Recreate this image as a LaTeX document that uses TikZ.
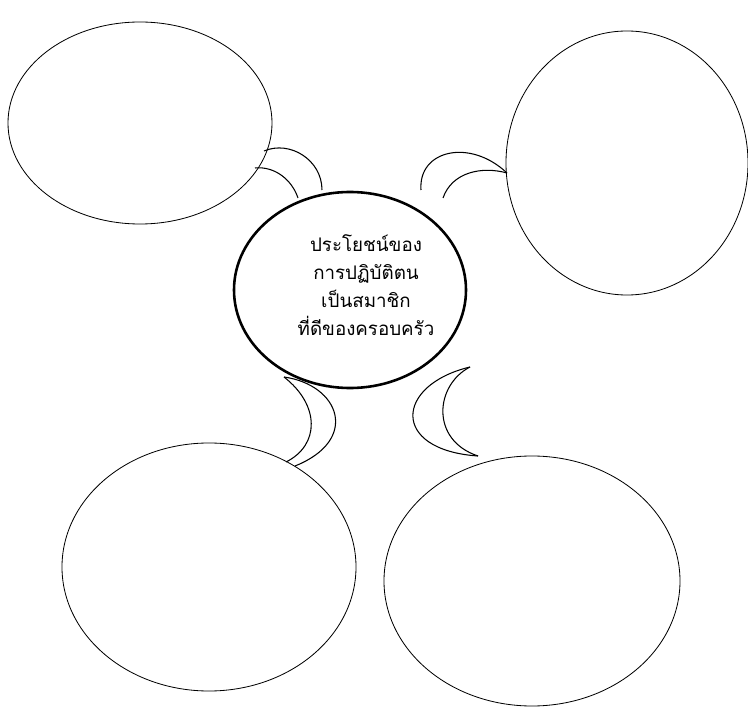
\documentclass[tikz,border=0pt]{standalone}
\usepackage{fontspec}
\newfontfamily\thaifont[Script=Thai]{Loma}
\begin{document}
\begin{tikzpicture}[x=0.03cm,y=-0.03cm,
  bubble/.style={draw=black,line width=0.7pt},
  mainbubble/.style={draw=black,line width=2.2pt},
  link/.style={draw=black,line width=0.9pt}]
\useasboundingbox[fill=white] (0,0) rectangle (748,710);
% ellipses
\draw[bubble] (140,123) ellipse [x radius=3.96cm, y radius=3.03cm];
\coordinate (tl) at (140,123);
\draw[bubble] (627,163) ellipse [x radius=3.63cm, y radius=3.96cm];
\coordinate (tr) at (627,163);
\draw[bubble] (209,567) ellipse [x radius=4.41cm, y radius=3.72cm];
\coordinate (bl) at (209,567);
\draw[bubble] (532,581) ellipse [x radius=4.44cm, y radius=3.75cm];
\coordinate (br) at (532,581);
\draw[mainbubble] (350,290) ellipse [x radius=3.48cm, y radius=2.94cm];
% crescent connectors
\coordinate (a1) at (264,151); \coordinate (a2) at (322,190);
\coordinate (a3) at (255,168); \coordinate (a4) at (298,198);
\draw[link] (a1) .. controls (290,140) and (322,160) .. (a2);
\draw[link] (a3) .. controls (275,166) and (292,180) .. (a4);
\coordinate (b1) at (421,190); \coordinate (b2) at (507,173);
\coordinate (b3) at (443,198);
\draw[link] (b1) .. controls (418,150) and (470,138) .. (b2);
\draw[link] (b3) .. controls (452,172) and (482,166) .. (b2);
\coordinate (c1) at (284,377); \coordinate (c2) at (286,462);
\coordinate (c3) at (295,466);
\draw[link] (c1) .. controls (320,405) and (320,445) .. (c2);
\draw[link] (c1) .. controls (340,385) and (360,440) .. (c3);
\coordinate (d1) at (470,367); \coordinate (d2) at (478,456);
\draw[link] (d1) .. controls (395,385) and (390,450) .. (d2);
\draw[link] (d1) .. controls (435,385) and (430,440) .. (d2);
% text
\node[align=center, font=\thaifont\fontsize{16}{24}\selectfont] (t) at (366,285)
  {ประโยชน์ของ\\การปฏิบัติตน\\เป็นสมาชิก\\ที่ดีของครอบครัว};
\end{tikzpicture}
\end{document}
